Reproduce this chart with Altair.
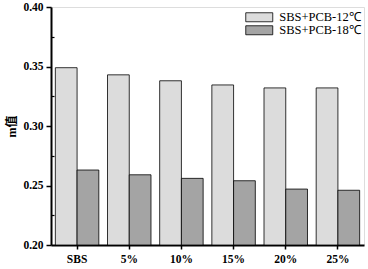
import altair as alt
import pandas as pd

categories = ["SBS", "5%", "10%", "15%", "20%", "25%"]
series = ["SBS+PCB-12℃", "SBS+PCB-18℃"]
v12 = [0.349, 0.343, 0.338, 0.3345, 0.332, 0.332]
v18 = [0.263, 0.259, 0.256, 0.254, 0.247, 0.246]
y_ticks = [0.20, 0.25, 0.30, 0.35, 0.40]
y_minor = [0.225, 0.275, 0.325, 0.375]

rows = []
for c, a, b in zip(categories, v12, v18):
    rows.append({"cat": c, "series": series[0], "m": a})
    rows.append({"cat": c, "series": series[1], "m": b})
df = pd.DataFrame(rows)

W, H = 313, 238
serif = "Liberation Serif"

x = alt.X("cat:N", sort=categories, title=None,
          scale=alt.Scale(paddingInner=0, paddingOuter=0),
          axis=alt.Axis(labelAngle=0, labelFont=serif, labelFontWeight="bold",
                        labelFontSize=11.5, labelColor="black", tickSize=4,
                        tickColor="black", tickWidth=1.5, domainColor="black",
                        domainWidth=2, labelPadding=4, grid=False))
yscale = alt.Scale(domain=[0.2, 0.4], zero=False, nice=False)

bars = alt.Chart(df).mark_bar(stroke="black", strokeWidth=0.8).encode(
    x=x,
    xOffset=alt.XOffset("series:N", sort=series,
                        scale=alt.Scale(paddingOuter=0.2, paddingInner=0)),
    y=alt.Y("m:Q", scale=yscale, title="m值",
            axis=alt.Axis(values=y_ticks, format=".2f", labelFont=serif,
                          labelFontWeight="bold", labelFontSize=11.5,
                          labelColor="black", tickSize=5, tickColor="black",
                          tickWidth=1.5, domainColor="black", domainWidth=2,
                          labelPadding=3, grid=False,
                          titleFont="Liberation Serif, Noto Sans CJK SC",
                          titleFontWeight="bold", titleFontSize=12,
                          titleColor="black", titlePadding=4)),
    y2=alt.datum(0.2),
    color=alt.Color("series:N", sort=series,
                    scale=alt.Scale(domain=series, range=["#dcdcdc", "#a4a4a4"]),
                    legend=alt.Legend(title=None, orient="none", legendX=202,
                                      legendY=4, padding=0,
                                      symbolType="M-3,-1H3V1H-3Z", symbolSize=81,
                                      symbolStrokeColor="black",
                                      symbolStrokeWidth=0.8, symbolOpacity=1,
                                      labelFont=serif, labelFontSize=12.5,
                                      labelColor="black", labelOffset=13.7,
                                      rowPadding=0)),
)

minor = alt.Chart(df).mark_point(opacity=0).encode(
    x=alt.X("cat:N", sort=categories, title=None),
    y=alt.Y("m:Q", scale=yscale, title=None,
            axis=alt.Axis(orient="right", offset=-W, values=y_minor,
                          labels=False, domain=False, tickSize=3,
                          tickColor="black", tickWidth=1.2, grid=False)),
)

chart = alt.layer(bars, minor).resolve_axis(y="independent").properties(
    width=W, height=H,
    autosize=alt.AutoSizeParams(type="none"),
    padding={"left": 51, "top": 7, "right": 4, "bottom": 24},
).configure_view(stroke="black", strokeWidth=1.5).configure(background="white")

chart.save("out.html", embed_options={"renderer": "svg", "actions": False})
